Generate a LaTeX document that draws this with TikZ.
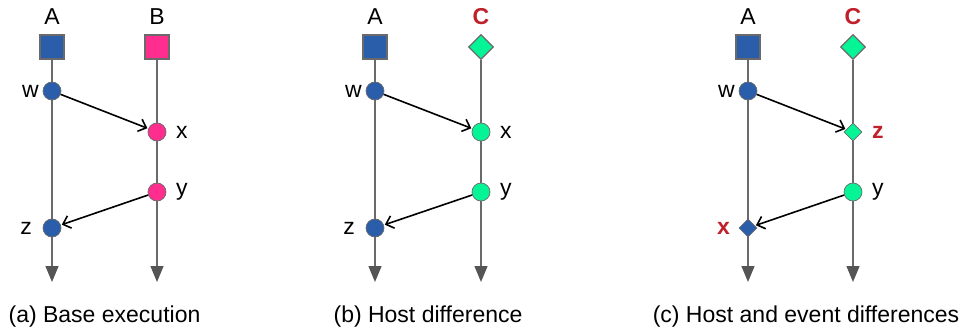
\documentclass[tikz,border=0pt]{standalone}
\usepackage{fontspec}
\setmainfont{Liberation Sans}
\usetikzlibrary{arrows.meta,shapes.geometric}
\definecolor{evblue}{HTML}{2B5EAA}
\definecolor{evpink}{HTML}{FF2D8E}
\definecolor{evgreen}{HTML}{05F596}
\definecolor{labred}{HTML}{C0202A}
\definecolor{linegray}{HTML}{6A6A6A}
\definecolor{tipgray}{HTML}{555555}
\tikzset{
  txt/.style={font=\fontsize{23}{27}\selectfont, inner sep=1pt},
  redtxt/.style={txt, text=labred, font=\fontsize{23}{27}\selectfont\bfseries},
  hostsq/.style={rectangle, draw=linegray, line width=1.2pt, minimum size=24pt, inner sep=0pt},
  hostdia/.style={diamond, draw=linegray, line width=1.2pt, minimum size=25pt, inner sep=0pt, fill=evgreen},
  ev/.style={circle, draw=linegray, line width=0.7pt, minimum size=18pt, inner sep=0pt},
  evdia/.style={diamond, draw=linegray, line width=0.7pt, minimum size=18pt, inner sep=0pt},
  timeline/.style={draw=linegray, line width=1.4pt, -{Triangle[width=13pt,length=16pt,color=tipgray]}},
  msg/.style={draw=black, line width=1.6pt, -{Straight Barb[length=7pt,width=13pt,line width=1.6pt]}, shorten >=1pt},
}
\begin{document}
\begin{tikzpicture}[x=1pt,y=-1pt]
\useasboundingbox (0,0) rectangle (964,329);
% ---------- panel (a)
\node[txt] (aA) at (52,17) {A};
\node[txt] (aB) at (157,17) {B};
\node[hostsq, fill=evblue] (ahA) at (52,47) {};
\node[hostsq, fill=evpink] (ahB) at (157,47) {};
\coordinate (aendA) at (52,282);
\coordinate (aendB) at (157,282);
\draw[timeline] (ahA.south) -- (aendA);
\draw[timeline] (ahB.south) -- (aendB);
\node[ev, fill=evblue] (aw) at (52,91) {};
\node[ev, fill=evpink] (ax) at (157,132) {};
\node[ev, fill=evpink] (ay) at (157,192) {};
\node[ev, fill=evblue] (az) at (52,228) {};
\node[txt, anchor=east] (awl) at (40,91) {w};
\node[txt, anchor=west] (axl) at (175,132) {x};
\node[txt, anchor=west] (ayl) at (175,192) {y};
\node[txt, anchor=east] (azl) at (33,228) {z};
\draw[msg] (aw) -- (ax);
\draw[msg] (ay) -- (az);
\node[txt, anchor=base] (acap) at (104.5,322) {(a) Base execution};
% ---------- panel (b)
\node[txt] (bA) at (375,17) {A};
\node[redtxt] (bC) at (481,17) {C};
\node[hostsq, fill=evblue] (bhA) at (375,47) {};
\node[hostdia] (bhC) at (481,47) {};
\coordinate (bendA) at (375,282);
\coordinate (bendC) at (481,282);
\draw[timeline] (bhA.south) -- (bendA);
\draw[timeline] (bhC.south) -- (bendC);
\node[ev, fill=evblue] (bw) at (375,91) {};
\node[ev, fill=evgreen] (bx) at (481,132) {};
\node[ev, fill=evgreen] (by) at (481,192) {};
\node[ev, fill=evblue] (bz) at (375,228) {};
\node[txt, anchor=east] (bwl) at (363,91) {w};
\node[txt, anchor=west] (bxl) at (499,132) {x};
\node[txt, anchor=west] (byl) at (499,192) {y};
\node[txt, anchor=east] (bzl) at (356,228) {z};
\draw[msg] (bw) -- (bx);
\draw[msg] (by) -- (bz);
\node[txt, anchor=base] (bcap) at (428,322) {(b) Host difference};
% ---------- panel (c)
\node[txt] (cA) at (748,17) {A};
\node[redtxt] (cC) at (853,17) {C};
\node[hostsq, fill=evblue] (chA) at (748,47) {};
\node[hostdia] (chC) at (853,47) {};
\coordinate (cendA) at (748,282);
\coordinate (cendC) at (853,282);
\draw[timeline] (chA.south) -- (cendA);
\draw[timeline] (chC.south) -- (cendC);
\node[ev, fill=evblue] (cw) at (748,91) {};
\node[evdia, fill=evgreen] (cz) at (853,132) {};
\node[ev, fill=evgreen] (cy) at (853,192) {};
\node[evdia, fill=evblue] (cx) at (748,228) {};
\node[txt, anchor=east] (cwl) at (736,91) {w};
\node[redtxt, anchor=west] (czl) at (871,132) {z};
\node[txt, anchor=west] (cyl) at (871,192) {y};
\node[redtxt, anchor=east] (cxl) at (731,228) {x};
\draw[msg] (cw) -- (cz);
\draw[msg] (cy) -- (cx);
\node[txt, anchor=base] (ccap) at (806,322) {(c) Host and event differences};
\end{tikzpicture}
\end{document}
